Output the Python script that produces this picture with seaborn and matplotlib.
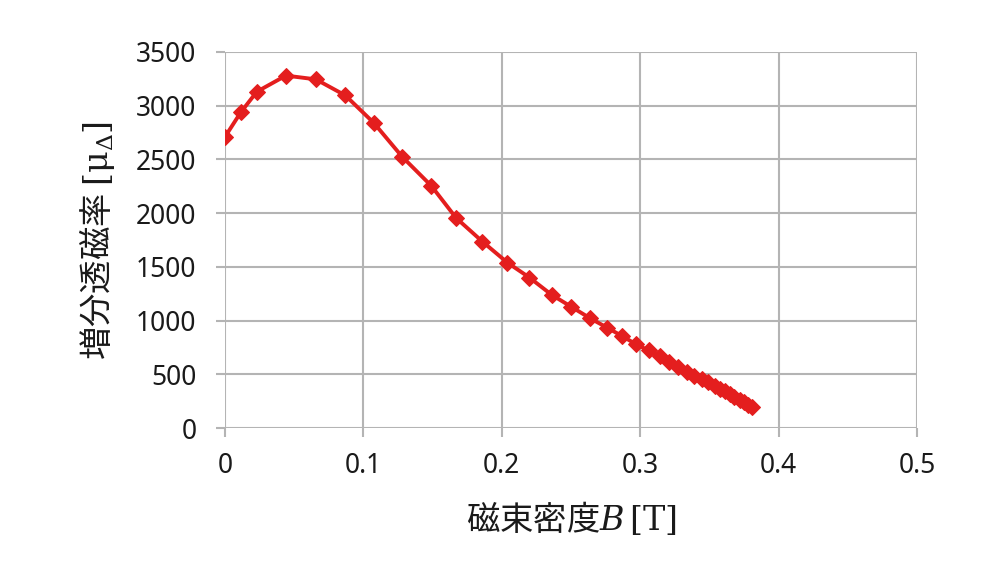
import matplotlib
matplotlib.use('Agg')
import matplotlib.pyplot as plt
import seaborn as sns
import pandas as pd

# flux density B [T] and incremental permeability
flux_b = [0.0, 0.0115, 0.023, 0.044, 0.0657, 0.087, 0.1075, 0.128, 0.149, 0.167,
          0.186, 0.204, 0.220, 0.236, 0.250, 0.264, 0.276, 0.287, 0.297, 0.306,
          0.314, 0.321, 0.3276, 0.334, 0.339, 0.345, 0.349, 0.354, 0.358, 0.361,
          0.365, 0.368, 0.372, 0.375, 0.378, 0.381]
mu_delta = [2710, 2940, 3130, 3280, 3245, 3095, 2840, 2525, 2255, 1955,
            1735, 1540, 1400, 1240, 1130, 1020, 935, 855, 780, 722,
            666, 612, 566, 520, 485, 455, 425, 392, 362, 340,
            312, 290, 262, 240, 218, 192]

df = pd.DataFrame({'B': flux_b, 'mu': mu_delta})

sns.set_style('white')
plt.rcParams['font.family'] = ['Noto Sans CJK JP', 'DejaVu Sans']
plt.rcParams['mathtext.fontset'] = 'dejavuserif'

fig = plt.figure(figsize=(10, 5.71), dpi=100)
ax = fig.add_axes([0.225, 0.2504, 0.692, 0.6586])

sns.lineplot(data=df, x='B', y='mu', ax=ax, color='#E41E1E', linewidth=2.8,
             marker='D', markersize=8.5, markeredgecolor='#E41E1E', zorder=3)

ax.set_xlim(0, 0.5)
ax.set_ylim(0, 3500)
ax.set_xticks([0, 0.1, 0.2, 0.3, 0.4, 0.5])
ax.set_xticklabels(['0', '0.1', '0.2', '0.3', '0.4', '0.5'])
ax.set_yticks(range(0, 3501, 500))
ax.grid(True, color='#B4B4B4', linewidth=1.5)
for s in ax.spines.values():
    s.set_visible(False)
ax.tick_params(axis='both', length=6.5, width=1.5, color='#B4B4B4',
               labelsize=19, labelcolor='#1a1a1a', direction='out',
               bottom=True, left=True)
ax.tick_params(axis='y', pad=14)
ax.tick_params(axis='x', pad=11)
for lab in ax.get_xticklabels() + ax.get_yticklabels():
    lab.set_family(['Noto Sans', 'DejaVu Sans'])

ax.set_xlabel('磁束密度$B\\,[\\mathrm{T}]$', fontsize=24, labelpad=14, color='#1a1a1a')
ax.set_ylabel('増分透磁率 $[\\mathrm{\\mu}_{\\Delta}]$', fontsize=24, labelpad=14, color='#1a1a1a')

fig.savefig('out.png', dpi=100)
